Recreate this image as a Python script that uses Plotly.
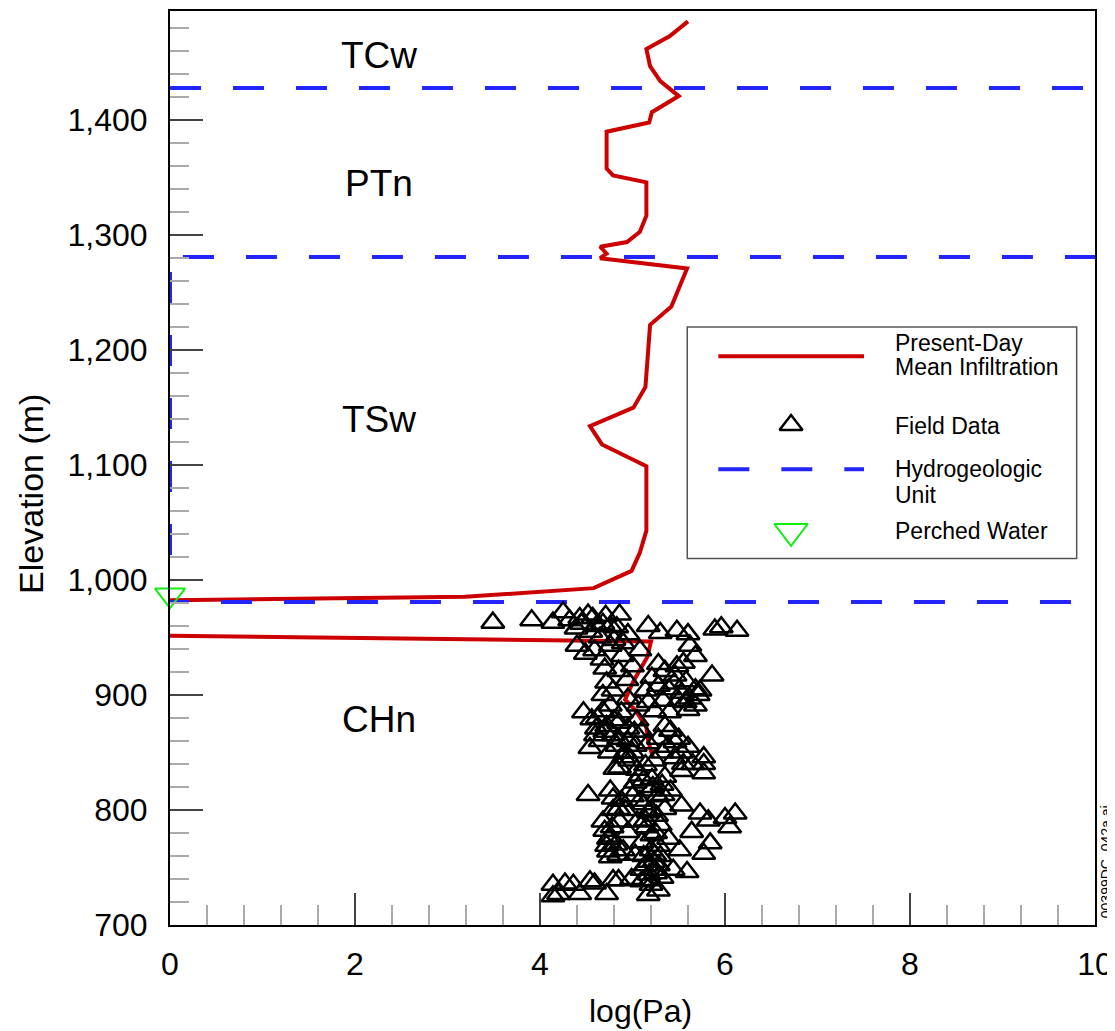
import plotly.graph_objects as go

FONT = "Liberation Sans, Arial, Helvetica, sans-serif"

# ---------------- data ----------------
# Present-Day mean infiltration profile (log(Pa) vs elevation); None splits the two pieces
model_x = [5.60, 5.40, 5.15, 5.19, 5.30, 5.50, 5.21, 5.18, 4.72, 4.72, 4.79, 5.15, 5.15, 5.08,
           4.94, 4.65, 4.72, 4.65, 5.59, 5.50, 5.42, 5.19, 5.16, 5.14, 5.01, 4.54, 4.67, 5.15,
           5.15, 5.08, 4.99, 4.58, 3.19, 0.00,
           None,
           0.00, 5.20, 5.16, 5.01, 4.92, 5.03, 5.15, 5.17, 5.22]
model_y = [1486, 1473, 1462, 1447, 1434, 1421, 1407, 1398, 1390, 1358, 1352, 1346, 1317, 1303,
           1294, 1290, 1284, 1280, 1271, 1254, 1238, 1222, 1195, 1168, 1150, 1134, 1118, 1099,
           1043, 1024, 1008, 993, 985.5, 982.5,
           None,
           951.5, 946.6, 933, 912, 896, 887, 872, 860, 846]

# Field data (log(Pa), elevation)
field_x = [3.49, 3.91, 4.14, 4.25, 4.32, 4.39, 4.43, 4.57, 4.61, 4.71, 4.76, 4.83, 4.95, 5.17,
           5.30, 5.48, 5.60, 5.89, 5.96, 6.13, 4.86,
           4.40, 4.49, 4.59, 4.67, 4.76, 4.70, 4.72, 4.68, 4.79, 4.76, 4.47, 4.56, 4.68, 4.61,
           4.72, 4.79, 4.83,
           5.08, 5.62, 5.68, 5.55, 5.86, 5.28, 5.35, 5.21, 5.46, 5.28, 5.39, 5.53, 5.68, 5.71,
           5.57, 5.68, 5.60, 4.85, 4.95, 5.06, 5.17, 5.24, 4.85, 4.95, 5.10, 5.35, 5.41, 5.28,
           5.17, 5.03, 5.46, 5.53, 5.77, 4.92, 5.32,
           4.81, 4.52, 4.76, 4.79, 4.79, 4.76, 4.72, 4.74, 4.76, 4.14, 4.20, 4.27, 4.36, 4.43,
           4.54, 4.59, 4.79, 4.72, 4.14,
           4.86, 5.03, 5.21, 5.35, 5.53, 5.77, 5.77, 4.85, 5.17, 5.35, 5.53, 5.73, 5.82, 6.00,
           6.11, 6.05, 5.64, 5.84, 5.77, 5.51, 5.39, 4.95, 4.85, 5.03, 5.17, 5.28, 5.44, 5.59,
           4.85, 4.99, 5.10, 5.17,
           5.24, 5.28, 5.21, 5.30, 5.14, 5.24, 5.32, 5.19, 5.08, 5.19, 5.08, 5.24, 5.14, 4.97,
           4.92, 5.33, 5.41,
           4.89, 5.00, 4.94, 5.14, 4.65, 4.54, 4.97, 5.73,
           5.05, 5.12, 5.22, 5.27, 5.12, 5.20, 5.26, 5.15, 5.25, 5.10, 5.20, 5.30, 5.15, 5.25,
           5.10, 5.20, 5.28, 5.12, 5.05, 5.32, 5.00, 5.23, 5.18,
           4.70, 4.78, 4.86, 4.74, 4.82, 4.90, 4.68, 4.88,
           4.62, 4.70, 4.80, 4.88, 4.95, 5.02, 5.05, 4.75, 4.90, 5.00, 4.60, 4.85,
           5.45, 5.50, 5.40, 5.62, 5.33, 5.48, 5.58,
           4.45, 4.55, 4.65, 4.80, 4.90, 4.52, 4.68,
           5.50, 5.60, 5.45, 5.38, 5.65, 5.55]
field_y = [963, 965, 963, 972, 965, 958, 967, 967, 960, 969, 960, 959, 953, 960,
           954, 956, 953, 957, 959, 956, 970,
           943, 936, 939, 931, 943, 923, 911, 900, 904, 891, 885, 879, 886, 871,
           873, 865, 856,
           939, 943, 934, 928, 917, 927, 921, 915, 917, 908, 905, 902, 905, 900,
           894, 891, 887, 921, 897, 891, 894, 886, 876, 871, 868, 873, 869, 862,
           858, 856, 859, 850, 846, 850, 850,
           836, 813, 817, 810, 800, 777, 769, 764, 759, 735, 727, 736, 735, 727,
           738, 736, 739, 727, 725,
           837, 824, 827, 829, 834, 840, 832, 801, 798, 801, 804, 797, 791, 793,
           797, 785, 781, 771, 762, 765, 775, 781, 761, 761, 755, 752, 748, 746,
           739, 740, 738, 726,
           761, 769, 778, 787, 791, 748, 741, 739, 808, 817, 830, 843, 839, 817,
           800, 813, 817,
           934, 925, 913, 904, 860, 854, 843, 904,
           835, 826, 820, 812, 805, 800, 795, 785, 780, 772, 765, 760, 752, 745,
           748, 735, 730, 760, 790, 822, 812, 755, 744,
           782, 785, 790, 775, 770, 765, 790, 808,
           880, 868, 878, 885, 860, 868, 878, 850, 846, 850, 865, 862,
           910, 895, 885, 897, 895, 925, 912,
           962, 955, 950, 948, 945, 970, 962,
           862, 855, 845, 855, 840, 840]

# Perched water observation
perched_x = [0.0]
perched_y = [987]

# Hydrogeologic unit boundaries (elevation, m) and unit labels
unit_boundaries = [1428, 1281, 981]
unit_names = ["TCw", "PTn", "TSw", "CHn"]
unit_label_elev = [1456, 1345, 1140, 879]
unit_label_x = 2.26
# vertical unit marker along the left axis (elevation span)
axis_unit_span = [1268, 1021]

# ---------------- style ----------------
RED = "#cc0000"
BLUE = "#2424ff"
GREEN = "#11ee11"
DASH = "31px,32px"
boundary_start_x = [0.0, 0.14, -0.13]   # dash-phase start of each boundary line

fig = go.Figure()

fig.add_trace(go.Scatter(x=model_x, y=model_y, mode="lines",
                         line=dict(color=RED, width=4), connectgaps=False,
                         showlegend=False, hoverinfo="skip"))

for elev, x0 in zip(unit_boundaries, boundary_start_x):
    fig.add_trace(go.Scatter(x=[x0, 10], y=[elev, elev], mode="lines",
                             line=dict(color=BLUE, width=4, dash=DASH),
                             showlegend=False, hoverinfo="skip"))

fig.add_trace(go.Scatter(x=[0, 0], y=axis_unit_span, mode="lines",
                         line=dict(color=BLUE, width=4, dash=DASH),
                         showlegend=False, hoverinfo="skip"))

fig.add_trace(go.Scatter(x=field_x, y=field_y, mode="markers",
                         marker=dict(symbol="triangle-up-open", size=20, color="black",
                                     line=dict(width=2.5, color="black")),
                         showlegend=False))

fig.add_trace(go.Scatter(x=perched_x, y=perched_y, mode="markers", cliponaxis=False,
                         marker=dict(symbol="triangle-down-open", size=26, color=GREEN,
                                     line=dict(width=2, color=GREEN)),
                         showlegend=False))

# unit labels
for name, elev in zip(unit_names, unit_label_elev):
    fig.add_annotation(x=unit_label_x, y=elev, xref="x", yref="y", text=name,
                       showarrow=False, font=dict(family=FONT, size=37, color="black"))

# ---------------- custom legend ----------------
LX0, LX1, LY0, LY1 = 0.5592, 0.9802, 0.4010, 0.6543
SYM_X0, SYM_X1, SYM_XC = 0.5928, 0.7503, 0.6714
TXT_X = 0.7816
fig.add_shape(type="rect", xref="paper", yref="paper", x0=LX0, x1=LX1, y0=LY0, y1=LY1,
              line=dict(color="#555555", width=1.5), fillcolor="white", layer="below")
fig.add_shape(type="line", xref="paper", yref="paper", x0=SYM_X0, x1=SYM_X1,
              y0=0.6224, y1=0.6224, line=dict(color=RED, width=4), layer="above")
fig.add_shape(type="line", xref="paper", yref="paper", x0=SYM_X0, x1=SYM_X1,
              y0=0.4987, y1=0.4987, line=dict(color=BLUE, width=4, dash=DASH), layer="above")

fig.add_trace(go.Scatter(x=[SYM_XC], y=[0.5471], xaxis="x2", yaxis="y2", mode="markers",
                         cliponaxis=False,
                         marker=dict(symbol="triangle-up-open", size=20, color="black",
                                     line=dict(width=2.5)),
                         showlegend=False, hoverinfo="skip"))
fig.add_trace(go.Scatter(x=[SYM_XC], y=[0.4308], xaxis="x2", yaxis="y2", mode="markers",
                         cliponaxis=False,
                         marker=dict(symbol="triangle-down-open", size=29, color=GREEN,
                                     line=dict(width=2)),
                         showlegend=False, hoverinfo="skip"))

legend_lines = [("Present-Day", 0.6373), ("Mean Infiltration", 0.6110),
                ("Field Data", 0.5460), ("Hydrogeologic", 0.4987), ("Unit", 0.4700),
                ("Perched Water", 0.4308)]
for txt, yy in legend_lines:
    fig.add_annotation(x=TXT_X, y=yy, xref="paper", yref="paper", text=txt,
                       showarrow=False, xanchor="left", yanchor="middle",
                       font=dict(family=FONT, size=23, color="black"))

# axis titles (placed as annotations for exact position)
fig.add_annotation(x=-0.151, y=0.472, xref="paper", yref="paper", text="Elevation (m)",
                   textangle=-90, showarrow=False, xanchor="center", yanchor="middle",
                   font=dict(family=FONT, size=34, color="black"))
fig.add_annotation(x=0.509, y=-0.0938, xref="paper", yref="paper", text="log(Pa)",
                   showarrow=False, xanchor="center", yanchor="middle",
                   font=dict(family=FONT, size=32, color="black"))

# figure id note
fig.add_annotation(x=1.0119, y=0.0687, xref="paper", yref="paper",
                   text="00399DC  042a.ai", textangle=-90, showarrow=False,
                   xanchor="center", yanchor="middle",
                   font=dict(family=FONT, size=14, color="black"))

axis_common = dict(showline=True, linecolor="black", linewidth=2, mirror=True,
                   showgrid=False, zeroline=False, ticks="inside", tickcolor="#444444",
                   tickwidth=1.5, tickfont=dict(family=FONT, size=32, color="black"))

# page body adds an 8px offset, so the figure is 8px smaller and margins shifted
fig.update_layout(
    width=1107, height=1023,
    margin=dict(l=162, r=20, t=1, b=106),
    paper_bgcolor="white", plot_bgcolor="white",
    showlegend=False,
    xaxis=dict(range=[0, 10], dtick=2, tick0=0, ticklen=32, ticklabelstandoff=10,
               minor=dict(dtick=0.4, tick0=0, ticks="inside", ticklen=20, tickwidth=1.5,
                          tickcolor="#aaaaaa", showgrid=False),
               **axis_common),
    yaxis=dict(range=[700, 1495], dtick=100, tick0=700, tickformat=",", ticklen=33,
               ticklabelstandoff=14,
               minor=dict(dtick=20, tick0=700, ticks="inside", ticklen=19, tickwidth=1.5,
                          tickcolor="#aaaaaa", showgrid=False),
               **axis_common),
    xaxis2=dict(overlaying="x", range=[0, 1], visible=False),
    yaxis2=dict(overlaying="y", range=[0, 1], visible=False),
)

fig.write_html("out.html")
